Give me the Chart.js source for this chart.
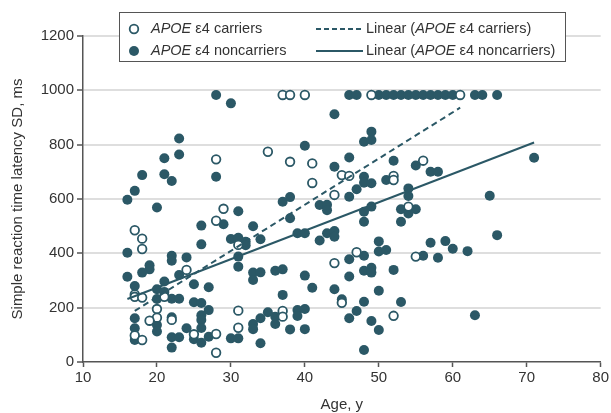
<!DOCTYPE html>
<html>
<head>
<meta charset="utf-8">
<script src="https://cdn.jsdelivr.net/npm/chart.js@4.4.1/dist/chart.umd.min.js"></script>
<style>
  html, body { margin: 0; padding: 0; background: #fff; }
</style>
</head>
<body>
<canvas id="chart" width="611" height="413"></canvas>
<script>
// APOE e4 carriers (open circles)
const carrierAge = [28, 17, 18, 18, 28, 24, 17, 17, 18, 21, 20, 20, 19, 22, 17, 18, 25, 28, 28, 37,
  38, 40, 35, 38, 41, 41, 45, 44, 29, 31, 44, 45, 31, 37, 37, 31, 49, 61, 46, 52, 52, 56, 54, 47, 55, 52];
const carrierSD = [746, 485, 454, 416, 520, 339, 249, 240, 237, 240, 195, 163, 152, 155, 98, 81, 102, 103, 34, 983,
  983, 983, 774, 737, 731, 659, 688, 615, 564, 431, 364, 218, 189, 188, 167, 126, 983, 983, 685, 685, 670, 741, 572, 404, 388, 170];

// APOE e4 noncarriers (filled circles)
const noncarrierAge = [
  28, 23, 21, 23, 18, 21, 22, 28, 17, 16, 20,
  26, 26, 22, 22, 24, 19, 19, 18, 16, 16, 17, 21, 23, 25, 27, 20, 21, 20, 22, 23, 25, 26, 27, 17, 22, 26, 26, 26, 17, 20, 20, 24, 25, 26, 27, 22, 23, 22, 17,
  30, 44, 40, 44, 37, 38, 31, 42, 43, 43, 29, 33, 38, 30, 31, 32, 32, 34, 39, 40, 42, 43, 44, 44, 31, 31, 33, 34, 33, 36,
  37, 40, 41, 37, 44, 35, 34, 36, 36, 39, 39, 40, 33, 33, 38, 40, 30, 31, 34,
  46, 47, 50, 51, 52, 53, 54, 55, 56, 57, 58, 59, 60, 63, 64, 66,
  49, 48, 49, 46, 52, 55, 57, 58, 51, 48, 48, 49, 47, 46, 54, 54, 49, 48, 53, 55, 54, 48, 53,
  50, 50, 51, 48, 56, 57, 58, 59, 60, 46, 46, 48, 49, 49, 52, 50, 45, 48, 53, 47, 46, 49, 50, 48,
  71, 65, 62, 66, 63
];
const noncarrierSD = [
  983, 823, 750, 764, 688, 691, 666, 682, 630, 597, 569,
  502, 433, 391, 373, 385, 356, 341, 329, 402, 314, 280, 296, 320, 286, 275, 268, 258, 232, 233, 233, 220, 217, 191, 161, 165, 172, 155, 125, 124, 136, 112, 124, 84, 71, 93, 91, 91, 53, 81,
  952, 912, 796, 719, 590, 607, 555, 578, 579, 559, 507, 500, 529, 453, 457, 443, 430, 452, 474, 474, 447, 474, 482, 461, 388, 351, 329, 330, 302, 336,
  341, 318, 273, 247, 268, 183, 161, 167, 140, 191, 169, 195, 140, 121, 120, 121, 87, 87, 69,
  983, 983, 983, 983, 983, 983, 983, 983, 983, 983, 983, 983, 983, 983, 983, 983,
  848, 811, 817, 753, 741, 723, 700, 700, 670, 682, 660, 658, 636, 608, 639, 611, 572, 553, 562, 562, 547, 516, 516,
  444, 407, 412, 391, 391, 439, 384, 445, 417, 378, 315, 336, 347, 329, 339, 262, 231, 222, 221, 188, 161, 151, 118, 44,
  752, 612, 408, 467, 172
];

// linear fits, end points
const fitCarrierAge = [17, 61];
const fitCarrierSD = [188, 936];
const fitNoncarrierAge = [16, 71];
const fitNoncarrierSD = [232, 808];

const xTicks = [10, 20, 30, 40, 50, 60, 70, 80];
const yTicks = [0, 200, 400, 600, 800, 1000, 1200];

const teal = "#2b5866";
const axisGray = "#555555";
const textGray = "#333333";
const fontFamily = "'Liberation Sans', Arial, sans-serif";

const toPoints = (xs, ys) => xs.map((x, i) => ({ x, y: ys[i] }));

// legend box drawn over the top of the plot
const boxLegend = {
  id: "boxLegend",
  afterDraw(chart) {
    const ctx = chart.ctx;
    ctx.save();
    ctx.fillStyle = "#fff";
    ctx.fillRect(119, 12, 447, 50);
    ctx.strokeStyle = axisGray;
    ctx.lineWidth = 1;
    ctx.strokeRect(119.5, 12.5, 446, 49);

    const rows = [29, 51];
    const drawParts = (parts, x, y) => {
      ctx.textBaseline = "middle";
      ctx.fillStyle = textGray;
      parts.forEach(([txt, italic]) => {
        ctx.font = (italic ? "italic " : "") + "14.5px " + fontFamily;
        ctx.fillText(txt, x, y);
        x += ctx.measureText(txt).width;
      });
    };

    // carriers marker
    ctx.beginPath();
    ctx.arc(134, rows[0], 4.3, 0, Math.PI * 2);
    ctx.fillStyle = "#fff";
    ctx.fill();
    ctx.strokeStyle = teal;
    ctx.lineWidth = 1.8;
    ctx.stroke();
    drawParts([["APOE", true], [" \u03b54 carriers", false]], 151, rows[0]);

    // noncarriers marker
    ctx.beginPath();
    ctx.arc(134, rows[1], 5, 0, Math.PI * 2);
    ctx.fillStyle = teal;
    ctx.fill();
    drawParts([["APOE", true], [" \u03b54 noncarriers", false]], 151, rows[1]);

    ctx.strokeStyle = teal;
    ctx.lineWidth = 2;
    ctx.setLineDash([5, 3]);
    ctx.beginPath();
    ctx.moveTo(316, rows[0]);
    ctx.lineTo(363, rows[0]);
    ctx.stroke();
    ctx.setLineDash([]);
    ctx.beginPath();
    ctx.moveTo(316, rows[1]);
    ctx.lineTo(363, rows[1]);
    ctx.stroke();

    drawParts([["Linear (", false], ["APOE", true], [" \u03b54 carriers)", false]], 366, rows[0]);
    drawParts([["Linear (", false], ["APOE", true], [" \u03b54 noncarriers)", false]], 366, rows[1]);
    ctx.restore();
  }
};

new Chart(document.getElementById("chart"), {
  type: "scatter",
  data: {
    datasets: [
      {
        label: "Linear (APOE \u03b54 carriers)",
        data: toPoints(fitCarrierAge, fitCarrierSD),
        showLine: true,
        borderColor: teal,
        borderWidth: 2,
        borderDash: [6, 4],
        pointRadius: 0
      },
      {
        label: "Linear (APOE \u03b54 noncarriers)",
        data: toPoints(fitNoncarrierAge, fitNoncarrierSD),
        showLine: true,
        borderColor: teal,
        borderWidth: 2,
        pointRadius: 0
      },
      {
        label: "APOE \u03b54 carriers",
        data: toPoints(carrierAge, carrierSD),
        pointRadius: 4.3,
        pointBackgroundColor: "#fff",
        pointBorderColor: teal,
        pointBorderWidth: 1.8
      },
      {
        label: "APOE \u03b54 noncarriers",
        data: toPoints(noncarrierAge, noncarrierSD),
        pointRadius: 5,
        pointBackgroundColor: teal,
        pointBorderWidth: 0
      }
    ]
  },
  options: {
    responsive: false,
    animation: false,
    layout: { padding: { top: 36, right: 8, left: 0, bottom: 0 } },
    plugins: {
      legend: { display: false },
      tooltip: { enabled: false }
    },
    scales: {
      x: {
        type: "linear",
        min: 10,
        max: 80,
        afterBuildTicks: (s) => { s.ticks = xTicks.map((v) => ({ value: v })); },
        afterFit: (s) => { s.height = 51; },
        ticks: {
          color: textGray,
          font: { family: fontFamily, size: 15 },
          padding: 2,
          callback: (v) => String(v)
        },
        grid: { drawOnChartArea: false, tickLength: 5, tickColor: axisGray, tickWidth: 1.5 },
        border: { display: true, color: axisGray, width: 1.5 },
        title: {
          display: true,
          text: "Age, y",
          color: textGray,
          font: { family: fontFamily, size: 15, lineHeight: 1 },
          padding: { top: 0, bottom: 1 }
        }
      },
      y: {
        min: 0,
        max: 1200,
        afterBuildTicks: (s) => { s.ticks = yTicks.map((v) => ({ value: v })); },
        afterFit: (s) => { s.width = 83; },
        ticks: {
          color: textGray,
          font: { family: fontFamily, size: 15 },
          padding: 3,
          callback: (v) => String(v)
        },
        grid: {
          color: (c) => (c.tick && c.tick.value === 0 ? "rgba(0,0,0,0)" : "#dedede"),
          lineWidth: 2,
          tickLength: 6,
          tickColor: axisGray,
          tickWidth: 1.5
        },
        border: { display: true, color: axisGray, width: 1.5 },
        title: {
          display: true,
          text: "Simple reaction time latency SD, ms",
          color: textGray,
          font: { family: fontFamily, size: 15, lineHeight: 1.2 },
          padding: { top: 9, bottom: 0 }
        }
      }
    }
  },
  plugins: [boxLegend]
});
</script>
</body>
</html>
